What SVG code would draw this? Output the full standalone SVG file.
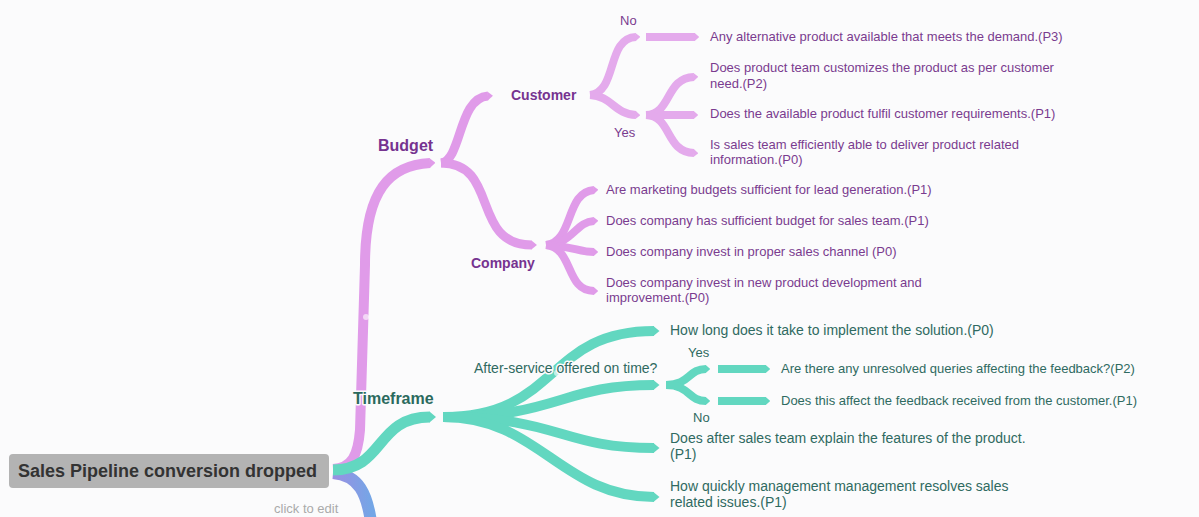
<svg xmlns="http://www.w3.org/2000/svg" width="1199" height="517" viewBox="0 0 1199 517">
<defs>
<style>
.br{fill:none;stroke-linecap:butt}
.pk{stroke:#e09be9}
.pl{stroke:#e4aaec}
.tl{stroke:#62d7c0}
.leafP{font-family:"Liberation Sans",Arial,sans-serif;font-size:13px;fill:#7a3b8f}
.leafT{font-family:"Liberation Sans",Arial,sans-serif;font-size:13px;fill:#2f6a61}
.big{font-size:14px}
.lblP{font-family:"Liberation Sans",Arial,sans-serif;font-weight:bold;fill:#763390}
.lblT{font-family:"Liberation Sans",Arial,sans-serif;font-weight:bold;fill:#2b6a5e}
.halo{stroke:#fbfbfc;stroke-width:3px;paint-order:stroke;stroke-linejoin:round}
</style>
<marker id="mP" viewBox="0 0 6 10" markerWidth="0.6" markerHeight="1" refX="0.5" refY="5" orient="auto" markerUnits="strokeWidth"><path d="M0,0 L6,5 L0,10 Z" fill="#e09be9"/></marker>
<marker id="mL" viewBox="0 0 6 10" markerWidth="0.6" markerHeight="1" refX="0.5" refY="5" orient="auto" markerUnits="strokeWidth"><path d="M0,0 L6,5 L0,10 Z" fill="#e4aaec"/></marker>
<marker id="mT" viewBox="0 0 6 10" markerWidth="0.6" markerHeight="1" refX="0.5" refY="5" orient="auto" markerUnits="strokeWidth"><path d="M0,0 L6,5 L0,10 Z" fill="#62d7c0"/></marker>
<linearGradient id="gB" x1="0" y1="0" x2="1" y2="0"><stop offset="0" stop-color="#9a8fe2"/><stop offset="1" stop-color="#74a6e6"/></linearGradient>
</defs>
<rect width="1199" height="517" fill="#fbfbfc"/>
<g id="connectors">
<path class="br" d="M333,473 C358,475 368,492 372,530" stroke="url(#gB)" stroke-width="12"/>
<path class="br pk" d="M333,469 C352,468 358,455 360,430 L365,265 C365,190 390,165 430,163" stroke-width="10" marker-end="url(#mP)"/>
<path class="br pk" d="M441,163 C462,160 458,98 488,96" stroke-width="9" marker-end="url(#mP)"/>
<path class="br pk" d="M441,163 C500,163 470,245 532,245" stroke-width="9" marker-end="url(#mP)"/>
<path class="br pk" d="M546,245 C574,242 565,192 594,190" stroke-width="8" marker-end="url(#mP)"/>
<path class="br pk" d="M546,245 C574,243 575,222 594,221" stroke-width="8" marker-end="url(#mP)"/>
<path class="br pk" d="M546,245 C574,246 578,252 594,252" stroke-width="8" marker-end="url(#mP)"/>
<path class="br pk" d="M546,245 C574,248 565,291 594,291" stroke-width="8" marker-end="url(#mP)"/>
<path class="br pl" d="M590,95 C618,92 606,38 636,37" stroke-width="8" marker-end="url(#mL)"/>
<path class="br pl" d="M590,95 C612,96 614,114 636,115" stroke-width="8" marker-end="url(#mL)"/>
<path class="br pl" d="M646,37 L695,37" stroke-width="8" marker-end="url(#mL)"/>
<path class="br pl" d="M646,115 C672,114 665,78 694,77" stroke-width="8" marker-end="url(#mL)"/>
<path class="br pl" d="M646,115 L694,115" stroke-width="8" marker-end="url(#mL)"/>
<path class="br pl" d="M646,115 C672,116 665,152 694,153" stroke-width="8" marker-end="url(#mL)"/>
<path class="br tl" d="M333,470 C385,470 375,417 430,417" stroke-width="11" marker-end="url(#mT)"/>
<path class="br tl" d="M443,417 C560,417 545,331 654,331" stroke-width="10" marker-end="url(#mT)"/>
<path class="br tl" d="M443,417 C560,417 560,385 654,385" stroke-width="10" marker-end="url(#mT)"/>
<path class="br tl" d="M443,417 C560,417 560,448 654,448" stroke-width="10" marker-end="url(#mT)"/>
<path class="br tl" d="M443,417 C540,417 560,497 654,497" stroke-width="10" marker-end="url(#mT)"/>
<path class="br tl" d="M666,385 C690,385 688,369 706,369" stroke-width="8" marker-end="url(#mT)"/>
<path class="br tl" d="M666,385 C690,385 688,401 706,401" stroke-width="8" marker-end="url(#mT)"/>
<path class="br tl" d="M718,369 L766,369" stroke-width="8" marker-end="url(#mT)"/>
<path class="br tl" d="M718,401 L766,401" stroke-width="8" marker-end="url(#mT)"/>
<circle cx="366" cy="317" r="3" fill="#ffffff" opacity="0.6"/>
<circle cx="557" cy="373" r="3" fill="#ffffff" opacity="0.6"/>
</g>
<g id="root">
<rect x="9" y="454" width="320" height="34" rx="4" fill="#b3b3b3"/>
<text x="18" y="477" font-family="Liberation Sans, Arial, sans-serif" font-size="18" font-weight="bold" fill="#333333">Sales Pipeline conversion dropped</text>
<text x="274" y="513" font-family="Liberation Sans, Arial, sans-serif" font-size="13" fill="#aaaaaa">click to edit</text>
</g>
<g id="budget"><text class="lblP halo" x="378" y="151" font-size="16">Budget</text></g>
<g id="customer"><text class="lblP" x="511" y="100" font-size="14">Customer</text></g>
<g id="company"><text class="lblP" x="471" y="268" font-size="14">Company</text></g>
<g id="no1"><text class="leafP" x="620" y="25">No</text></g>
<g id="yes1"><text class="leafP" x="614" y="137">Yes</text></g>
<g id="c1"><text class="leafP" x="710" y="41">Any alternative product available that meets the demand.(P3)</text></g>
<g id="c2"><text class="leafP" x="710" y="72">Does product team customizes the product as per customer</text><text class="leafP" x="710" y="88">need.(P2)</text></g>
<g id="c3"><text class="leafP" x="710" y="118">Does the available product fulfil customer requirements.(P1)</text></g>
<g id="c4"><text class="leafP" x="710" y="149">Is sales team efficiently able to deliver product related</text><text class="leafP" x="710" y="164">information.(P0)</text></g>
<g id="k1"><text class="leafP" x="606" y="194">Are marketing budgets sufficient for lead generation.(P1)</text></g>
<g id="k2"><text class="leafP" x="606" y="225">Does company has sufficient budget for sales team.(P1)</text></g>
<g id="k3"><text class="leafP" x="606" y="256">Does company invest in proper sales channel (P0)</text></g>
<g id="k4"><text class="leafP" x="606" y="287">Does company invest in new product development and</text><text class="leafP" x="606" y="302">improvement.(P0)</text></g>
<g id="timeframe"><text class="lblT halo" x="353" y="404" font-size="16">Timeframe</text></g>
<g id="t1"><text class="leafT big" x="670" y="335">How long does it take to implement the solution.(P0)</text></g>
<g id="t2"><text class="leafT big halo" x="474" y="373">After-service offered on time?</text></g>
<g id="yes2"><text class="leafT" x="688" y="357">Yes</text></g>
<g id="no2"><text class="leafT" x="693" y="422">No</text></g>
<g id="t2a"><text class="leafT" x="781" y="373">Are there any unresolved queries affecting the feedback?(P2)</text></g>
<g id="t2b"><text class="leafT" x="781" y="405">Does this affect the feedback received from the customer.(P1)</text></g>
<g id="t3"><text class="leafT big" x="670" y="443">Does after sales team explain the features of the product.</text><text class="leafT big" x="670" y="459">(P1)</text></g>
<g id="t4"><text class="leafT big" x="670" y="491">How quickly management management resolves sales</text><text class="leafT big" x="670" y="507">related issues.(P1)</text></g>
</svg>
